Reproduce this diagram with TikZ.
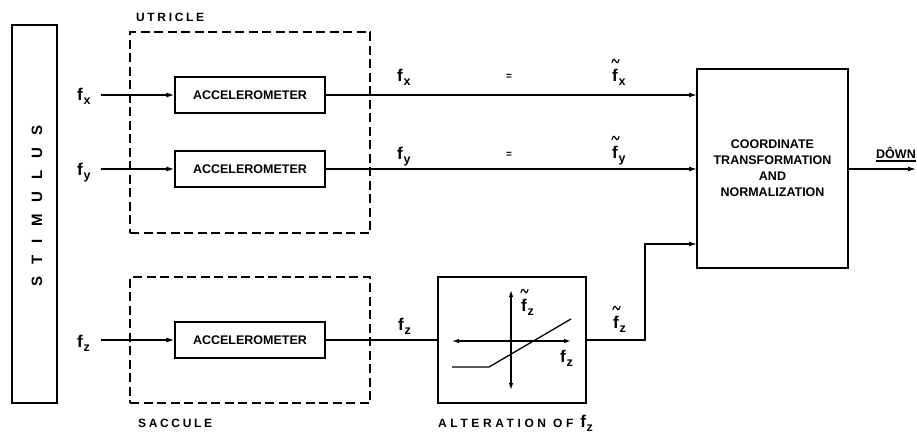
\documentclass[tikz,border=0pt]{standalone}
\usepackage{fontspec}
\setmainfont{Liberation Sans}
\newfontfamily\spA[LetterSpace=22]{Liberation Sans}
\newfontfamily\spC[LetterSpace=30]{Liberation Sans}
\newfontfamily\spB[LetterSpace=80]{Liberation Sans}
\usetikzlibrary{arrows.meta}
\newcommand\fs[1]{{\fontsize{17}{17}\selectfont f}\kern0.8pt\raisebox{-4pt}{\fontsize{12.5}{12.5}\selectfont #1}}
\newcommand\dul[1]{\setbox0\hbox{#1}\rlap{\rule[-4pt]{\wd0}{1.6pt}}\box0}
\tikzset{
  lw/.style={line width=1.3pt},
  arr/.style={lw,-{Latex[length=8pt,width=5pt]}},
  blk/.style={draw,lw,rectangle,inner sep=0pt},
  dbox/.style={draw,lw,rectangle,inner sep=0pt,dash pattern=on 9pt off 4.5pt},
  lbl/.style={inner sep=0pt,anchor=base west,font=\bfseries},
  acc/.style={blk,minimum width=150pt,minimum height=36pt,font=\bfseries\fontsize{12.5}{12.5}\selectfont},
  tild/.pic={\draw[line width=1.2pt,line cap=round] (-3.5,1.5) .. controls (-2.5,-3.5) and (0,-1.5) .. (0,0) .. controls (0,1.5) and (2.5,3.5) .. (3.5,-1.5);},
}
\begin{document}
\begin{tikzpicture}[x=1pt,y=-1pt]
\useasboundingbox (0,0) rectangle (917,434);
% stimulus
\node[blk,minimum width=45pt,minimum height=378pt] (stim) at (34.5,214) {};
\node[inner sep=0pt,rotate=90,font=\spB\bfseries\fontsize{15}{15}\selectfont] (stimtxt) at (37,206) {STIMULUS};
% utricle / saccule
\node[dbox,minimum width=240pt,minimum height=201pt] (utr) at (250,132.5) {};
\node[lbl,font=\spA\bfseries\fontsize{12}{12}\selectfont] (utrl) at (136,21) {UTRICLE};
\node[dbox,minimum width=240pt,minimum height=126pt] (sac) at (250,340) {};
\node[lbl,font=\spA\bfseries\fontsize{12}{12}\selectfont] (sacl) at (138,427) {SACCULE};
% accelerometers
\node[acc] (acc1) at (250,95) {ACCELEROMETER};
\node[acc] (acc2) at (250,169) {ACCELEROMETER};
\node[acc] (acc3) at (250,340) {ACCELEROMETER};
% alteration box
\node[blk,minimum width=148pt,minimum height=126pt] (alt) at (512,340) {};
\node[lbl,font=\spC\bfseries\fontsize{12}{12}\selectfont] (altl) at (438,427) {ALTERATION OF \fs{z}};
% coordinate box
\node[blk,minimum width=151pt,minimum height=199pt,align=center,font=\bfseries\fontsize{12.5}{16}\selectfont] (coord) at (772.5,168.5) {COORDINATE\\TRANSFORMATION\\AND\\NORMALIZATION};
% input labels
\node[lbl] (lfx) at (77,100) {\fs{x}};
\node[lbl] (lfy) at (77,175) {\fs{y}};
\node[lbl] (lfz) at (77,347) {\fs{z}};
\coordinate (inx) at (101,95);
\coordinate (iny) at (101,169);
\coordinate (inz) at (101,340);
\draw[arr] (inx) -- (acc1.west);
\draw[arr] (iny) -- (acc2.west);
\draw[arr] (inz) -- (acc3.west);
% outputs
\coordinate (c1) at (697,95);
\coordinate (c2) at (697,169);
\coordinate (c3) at (697,244);
\draw[arr] (acc1.east) -- (c1);
\draw[arr] (acc2.east) -- (c2);
\draw[lw] (acc3.east) -- (alt.west);
\draw[arr] (alt.east) -- (645,340) |- (c3);
\coordinate (dend) at (916,169);
\draw[arr] (coord.east |- c2) -- (dend);
% line labels
\node[lbl] (t1) at (397,81) {\fs{x}};
\node[lbl] (e1) at (506,79) {\fontsize{10}{10}\selectfont =};
\node[lbl] (t2) at (612,81) {\fs{x}};
\node[lbl] (t3) at (397,159) {\fs{y}};
\node[lbl] (e2) at (506,157) {\fontsize{10}{10}\selectfont =};
\node[lbl] (t4) at (612,158) {\fs{y}};
\node[lbl] (t5) at (398,330) {\fs{z}};
\node[lbl] (t6) at (613,328) {\fs{z}};
\node[lbl,font=\bfseries\fontsize{12.5}{12.5}\selectfont] (down) at (876,158) {\dul{D\^OWN}};
% tildes
\path (t2.base west) ++(3.5,-20) pic{tild};
\path (t4.base west) ++(3.5,-20) pic{tild};
\path (t6.base west) ++(3.5,-20) pic{tild};
% characteristic graph
\draw[lw,{Latex[length=7pt,width=4.5pt]}-{Latex[length=7pt,width=4.5pt]}] (452,341) -- (571,341);
\draw[lw,{Latex[length=7pt,width=4.5pt]}-{Latex[length=7pt,width=4.5pt]}] (511,290) -- (511,390);
\draw[lw] (452,367) -- (489,367) -- (571,319);
\node[lbl] (g1) at (521,311) {\fs{z}};
\path (g1.base west) ++(3.5,-20) pic{tild};
\node[lbl] (g2) at (560,362) {\fs{z}};
\end{tikzpicture}
\end{document}
